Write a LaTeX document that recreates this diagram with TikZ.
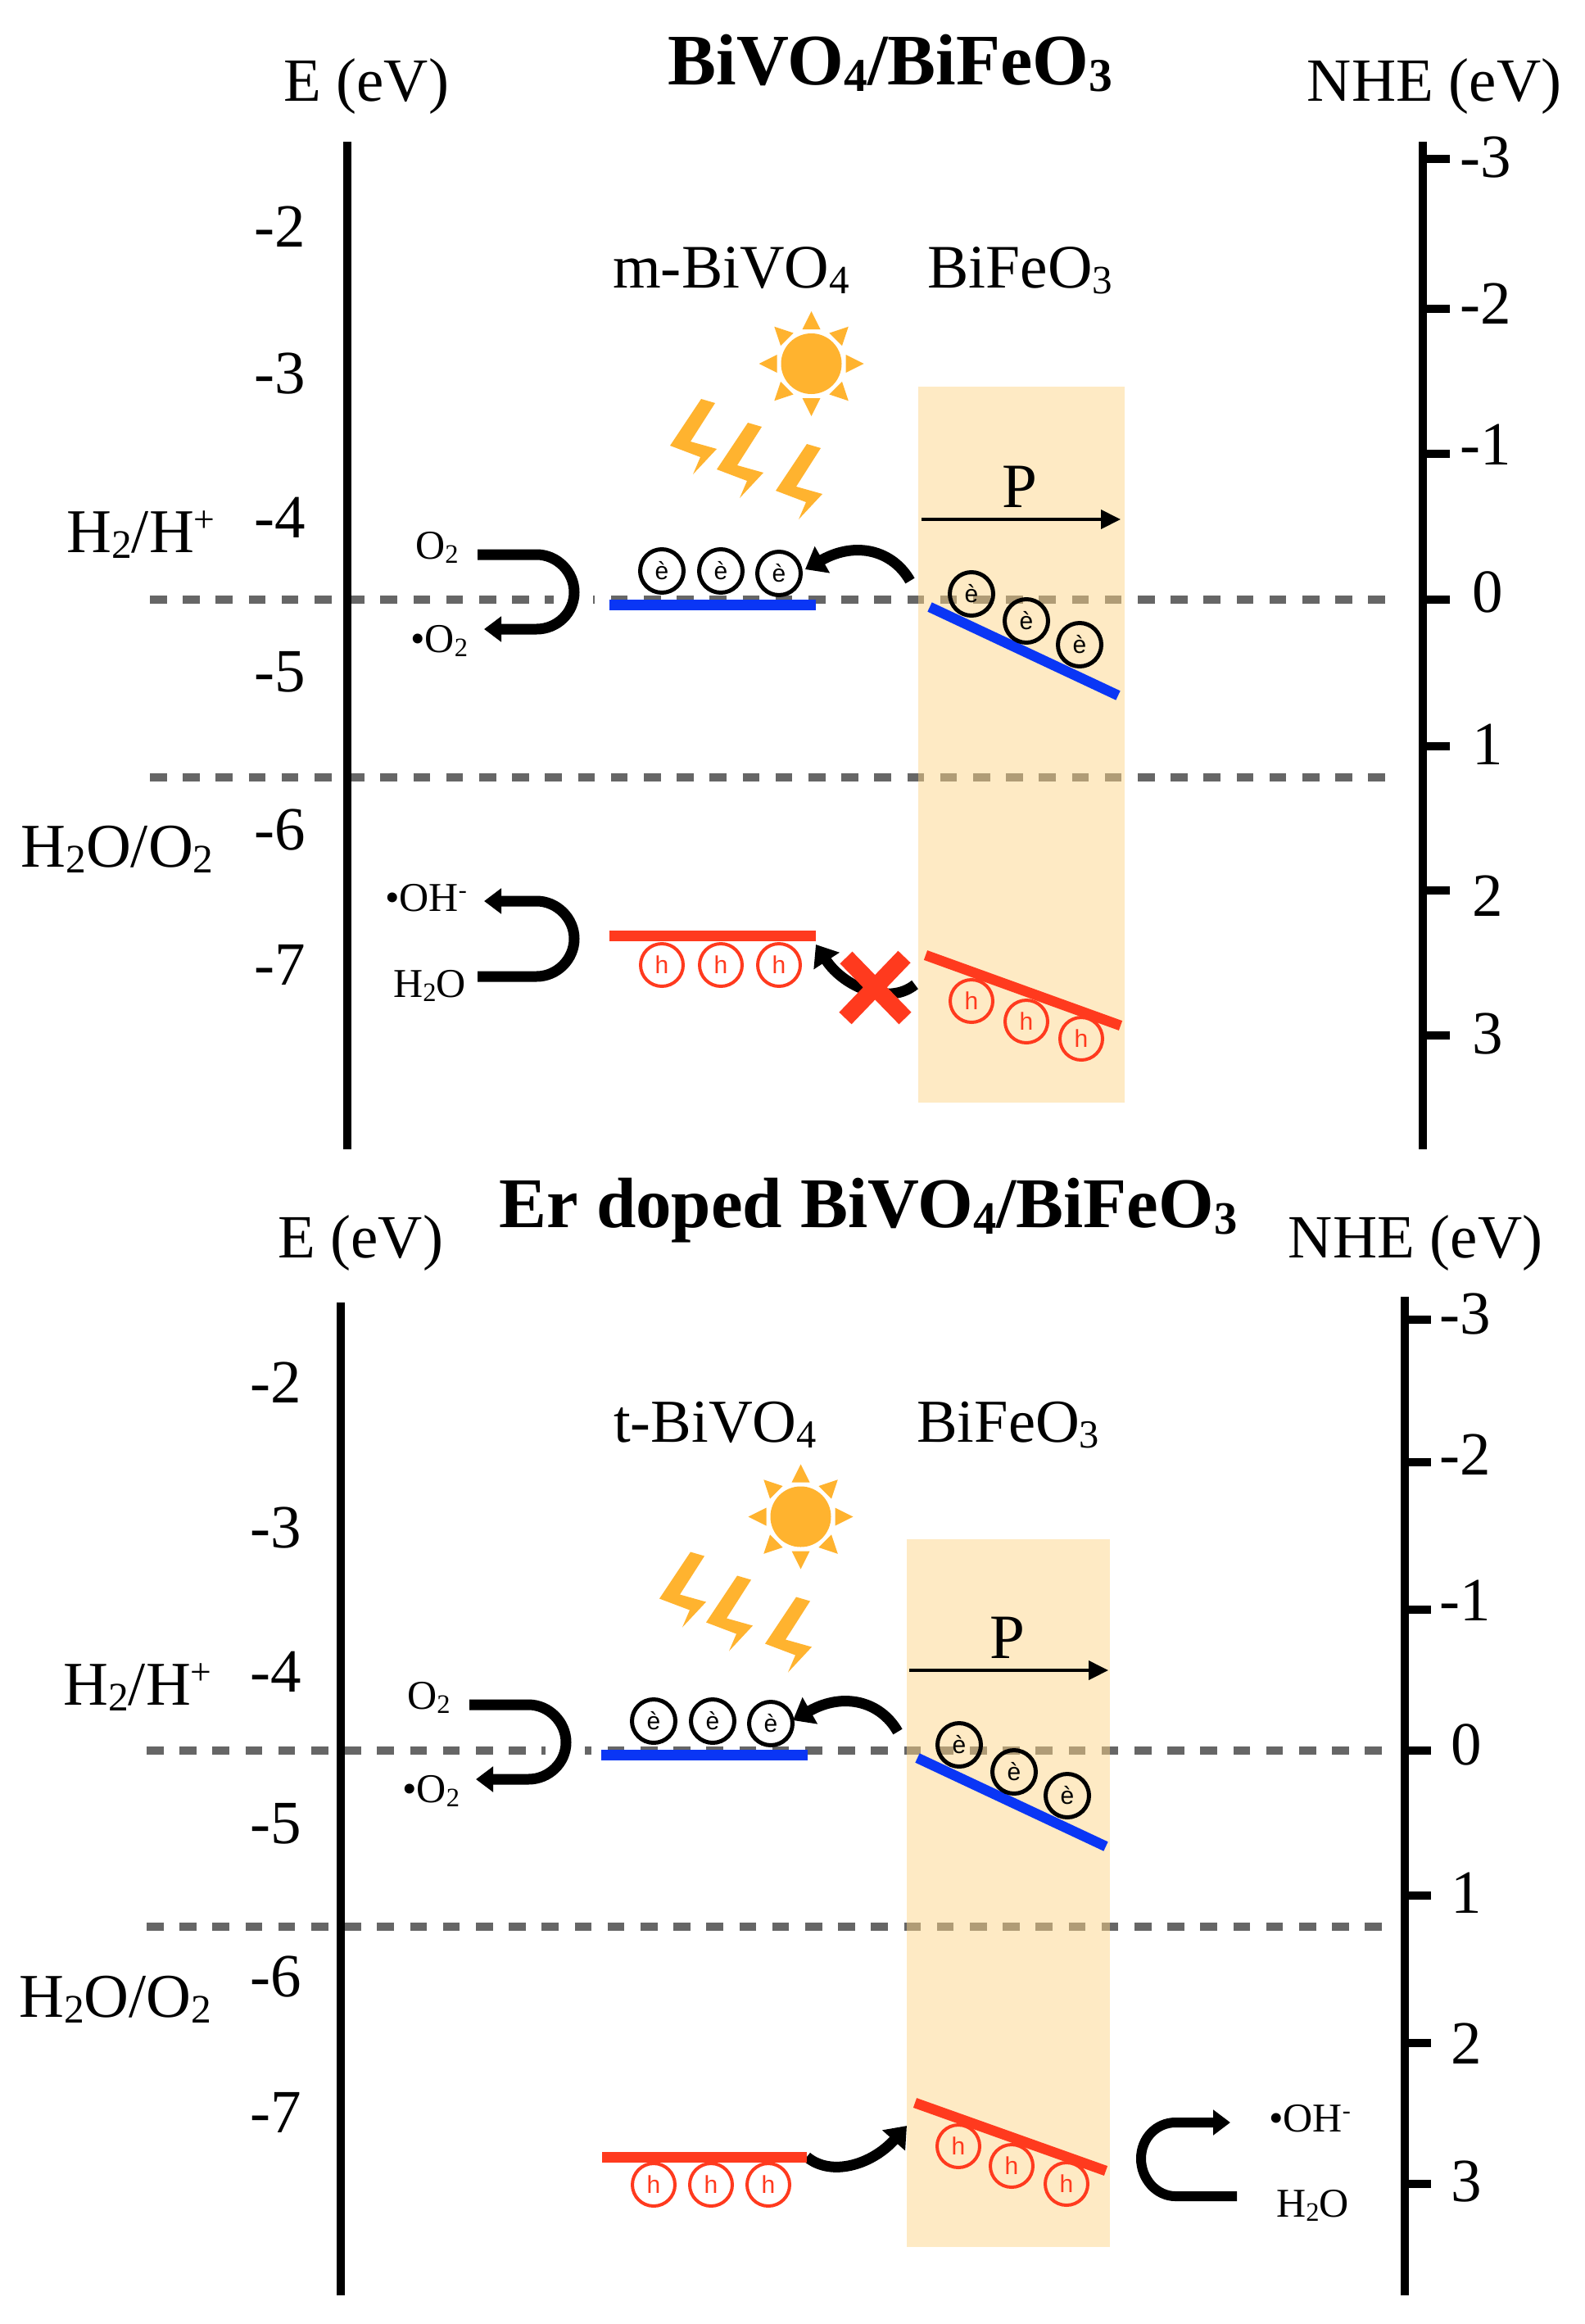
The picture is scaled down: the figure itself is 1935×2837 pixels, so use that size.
\documentclass[tikz,border=0pt]{standalone}
\usepackage{fontspec}
\usepackage{graphicx}
\setmainfont{Liberation Serif}
\newfontfamily\circfont{Liberation Sans}
\usetikzlibrary{arrows.meta}
\definecolor{bandblue}{HTML}{0A36F5}
\definecolor{bandred}{HTML}{FF3A1E}
\definecolor{sunc}{HTML}{FFB32F}
\definecolor{rectc}{HTML}{FDD687}
\definecolor{dashc}{HTML}{666666}
\newcommand{\dn}[1]{\raisebox{-.1em}{\scalebox{.65}{#1}}}
\newcommand{\up}[1]{\raisebox{.32em}{\scalebox{.6}{#1}}}
\tikzset{
  lab/.style={anchor=base west,inner sep=0pt,font=\fontsize{75.5}{80}\selectfont},
  labl/.style={anchor=base west,inner sep=0pt,font=\fontsize{74.5}{80}\selectfont},
  labc/.style={anchor=base,inner sep=0pt,font=\fontsize{75}{80}\selectfont},
  labr/.style={anchor=base,inner sep=0pt,font=\fontsize{76}{80}\selectfont},
  labe/.style={anchor=base east,inner sep=0pt,font=\fontsize{75}{80}\selectfont},
  chem/.style={anchor=base west,inner sep=0pt,font=\fontsize{50}{54}\selectfont},
  titlelab/.style={anchor=base,inner sep=0pt,font=\fontsize{87}{92}\selectfont\bfseries},
  axisline/.style={line width=10pt},
  tick/.style={line width=10pt},
  dashline/.style={dashc,line width=10pt,dash pattern=on 20.5pt off 19.7pt},
  ecirc/.style={circle,draw=black,line width=5pt,minimum size=53pt,inner sep=0pt,font=\circfont\fontsize{30}{32}\selectfont},
  hcirc/.style={circle,draw=bandred,text=bandred,line width=4pt,minimum size=52pt,inner sep=0pt,font=\circfont\fontsize{30}{32}\selectfont},
  rbar/.style={bandred,line width=13pt},
  bbar/.style={bandblue,line width=13pt},
  uarrow/.style={black,line width=13pt,-{Triangle[length=21pt,width=30pt]}},
  carrow/.style={black,line width=13pt,-{Triangle[length=24pt,width=36pt]}},
  parrow/.style={black,line width=4pt,-{Triangle[length=24pt,width=23pt]}},
  polrect/.style={fill=rectc,fill opacity=.49,draw=none},
}
\newcommand{\sunbolts}{%
  \fill[sunc] (990.5,444) ellipse [x radius=37,y radius=37];
  \foreach \a in {0,45,...,315}{
    \fill[sunc,shift={(990.5,444)},rotate=\a] (-11,-42) -- (0,-64) -- (11,-42) -- cycle;}
  \foreach \dx/\dy in {0/0,57/29,129/55}{
    \fill[sunc,shift={(\dx,\dy)}] (856,487) -- (873,492) -- (843,539) -- (875,548) -- (846,579) -- (855,558) -- (818,544) -- cycle;}
}
\newcommand{\leftband}[1]{%
  \draw[uarrow] (583,677) -- (655,677) .. controls (680,677) and (701,698) .. (701,723) .. controls (701,748) and (680,768) .. (655,768) -- (591,768);
  \draw[bbar] (744,738) -- (996,738);
  \node[ecirc] (#1e1) at (808,697) {è};
  \node[ecirc] (#1e2) at (880,697) {è};
  \node[ecirc] (#1e3) at (951,700) {è};
  \node[chem] (#1o) at (507,682) {O\dn{2}};
  \node[chem] (#1ro) at (501,796) {•O\dn{2}};
}
\newcommand{\rightband}[1]{%
  \node[labc,font=\fontsize{77}{80}\selectfont] (#1p) at (1245,619) {P};
  \draw[parrow] (1125,634) -- (1368,634);
  \draw[carrow] (1111,709) .. controls (1090,672) and (1045,660) .. (983,695);
  \draw[bandblue,line width=12.5pt] (1135,741) -- (1365,849);
  \node[ecirc] (#1f1) at (1186,725) {è};
  \node[ecirc] (#1f2) at (1253,758) {è};
  \node[ecirc] (#1f3) at (1318,787) {è};
}
\begin{document}
\begin{tikzpicture}[x=1pt,y=-1pt]
\useasboundingbox (0,0) rectangle (1935,2837);
\fill[white] (0,0) rectangle (1935,2837);
% dashed levels
\draw[dashline] (183,732) -- (1699,732);
\draw[dashline] (183,949) -- (1699,949);
\draw[dashline] (179,2137) -- (1697,2137);
\draw[dashline] (179,2352) -- (1697,2352);
\fill[white] (675.5,724) rectangle (724,741);
\fill[white] (665.5,2129) rectangle (714,2146);
% polarisation panels
\fill[polrect] (1121,472) rectangle (1373,1346);
\fill[polrect] (1107,1879) rectangle (1355,2743);
% axes upper
\draw[axisline] (423.5,173) -- (423.5,1403);
\draw[axisline] (1737,173) -- (1737,1403);
\foreach \y in {194,377,554,732,911,1087,1264}{\draw[tick] (1737,\y) -- (1769.5,\y);}
% axes lower
\draw[axisline] (415.5,1590) -- (415.5,2802);
\draw[axisline] (1714.5,1583) -- (1714.5,2802);
\foreach \y in {1611,1785,1965,2137,2314,2494,2666}{\draw[tick] (1714.5,\y) -- (1747,\y);}
% titles
\node[titlelab,font=\fontsize{88.5}{92}\selectfont\bfseries] (t1) at (1087,103) {BiVO\dn{4}/BiFeO\dn{3}};
\node[titlelab] (t2) at (1060,1498) {Er doped BiVO\dn{4}/BiFeO\dn{3}};
\node[labc] (e1) at (447,123) {E (eV)};
\node[labc] (e2) at (440,1535) {E (eV)};
\node[labc] (n1) at (1751,123) {NHE (eV)};
\node[labc] (n2) at (1728,1535) {NHE (eV)};
% left ticks
\foreach \t/\y in {2/301,3/480,4/656,5/844,6/1037,7/1202}{\node[labe] (la\t) at (373,\y) {-\t};}
\foreach \t/\y in {2/1712,3/1889,4/2065,5/2250,6/2437,7/2603}{\node[labe] (lb\t) at (368,\y) {-\t};}
% right ticks
\foreach \t/\y in {-3/216,-2/395,-1/567}{\node[labc] (ra\t) at (1814,\y) {\t};}
\foreach \t/\y in {0/747,1/933,2/1118,3/1286}{\node[labc] (ra\t) at (1816,\y) {\t};}
\foreach \t/\y in {-3/1628,-2/1800,-1/1978}{\node[labc] (rb\t) at (1789,\y) {\t};}
\foreach \t/\y in {0/2154,1/2335,2/2519,3/2687}{\node[labc] (rb\t) at (1790,\y) {\t};}
% redox labels
\node[labr] (h1) at (172,674) {H\dn{2}/H\up{+}};
\node[labr] (h2) at (168,2081) {H\dn{2}/H\up{+}};
\node[labr] (w1) at (143,1058) {H\dn{2}O/O\dn{2}};
\node[labr] (w2) at (141,2462) {H\dn{2}O/O\dn{2}};
% material labels
\node[lab] (m1) at (748,351) {m-BiVO\dn{4}};
\node[lab] (b1) at (1132,351) {BiFeO\dn{3}};
\node[labl] (m2) at (749,1760) {t-BiVO\dn{4}};
\node[labl] (b2) at (1119,1760) {BiFeO\dn{3}};
% upper scene
\sunbolts
\leftband{a}
\rightband{a}
% lower scene
\begin{scope}[shift={(-13,1407.5)}]\sunbolts\end{scope}
\begin{scope}[shift={(-10,1404)}]\leftband{b}\end{scope}
\begin{scope}[shift={(-15,1405)}]\rightband{b}\end{scope}
% upper valence band
\draw[uarrow] (583,1192) -- (655,1192) .. controls (680,1192) and (701,1171) .. (701,1146) .. controls (701,1121) and (680,1100) .. (655,1100) -- (591,1100);
\node[chem] (oh1) at (470,1112) {•OH\up{-}};
\node[chem] (wa1) at (480,1217) {H\dn{2}O};
\draw[rbar] (744,1142) -- (996,1142);
\node[hcirc] (ah1) at (808,1178) {h};
\node[hcirc] (ah2) at (880,1178) {h};
\node[hcirc] (ah3) at (951,1178) {h};
\draw[carrow] (1117,1202) .. controls (1085,1228) and (1030,1205) .. (996,1153);
\draw[bandred,line width=21pt] (1033,1169) -- (1105,1243);
\draw[bandred,line width=21pt] (1104,1168) -- (1032,1243);
\draw[bandred,line width=12.5pt] (1130,1166) -- (1368,1252);
\node[hcirc] (ag1) at (1186,1222) {h};
\node[hcirc] (ag2) at (1253,1247) {h};
\node[hcirc] (ag3) at (1320,1268) {h};
% lower valence band
\draw[carrow] (985,2633) .. controls (1015,2658) and (1065,2642) .. (1107,2595);
\draw[rbar] (735,2633) -- (985,2633);
\node[hcirc] (bh1) at (798,2667) {h};
\node[hcirc] (bh2) at (868,2667) {h};
\node[hcirc] (bh3) at (938,2667) {h};
\draw[bandred,line width=12.5pt] (1117,2567) -- (1350,2650);
\node[hcirc] (bg1) at (1170,2620) {h};
\node[hcirc] (bg2) at (1235,2644) {h};
\node[hcirc] (bg3) at (1302,2666) {h};
\draw[uarrow,line width=12pt] (1510,2681) -- (1435,2681) .. controls (1412,2681) and (1393,2660) .. (1393,2635) .. controls (1393,2610) and (1412,2591) .. (1435,2591) -- (1502,2591);
\node[chem] (oh2) at (1549,2602) {•OH\up{-}};
\node[chem] (wa2) at (1558,2706) {H\dn{2}O};
\end{tikzpicture}
\end{document}
